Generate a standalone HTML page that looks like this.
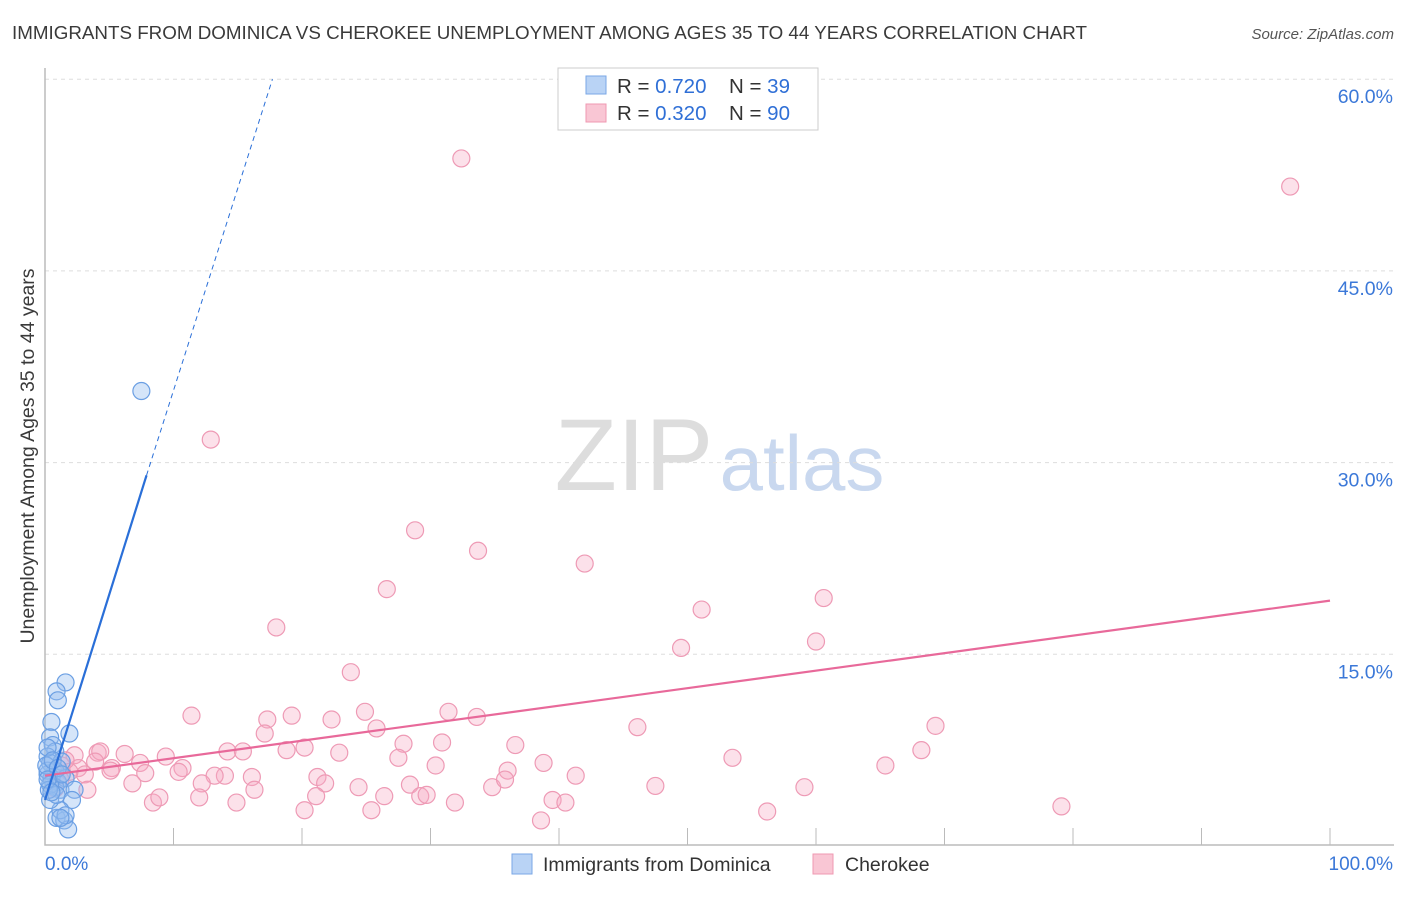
<!DOCTYPE html>
<html><head><meta charset="utf-8"><style>
body{margin:0;background:#fff;font-family:"Liberation Sans",sans-serif;}
svg text{font-family:"Liberation Sans",sans-serif;}
</style></head><body>
<svg id="chart" width="1406" height="892">
<text x="12" y="39" font-size="18.8" fill="#3a3a3a">IMMIGRANTS FROM DOMINICA VS CHEROKEE UNEMPLOYMENT AMONG AGES 35 TO 44 YEARS CORRELATION CHART</text>
<text x="1394" y="39" font-size="15" fill="#555" font-style="italic" text-anchor="end">Source: ZipAtlas.com</text>
<g><text x="634" y="490" font-size="102" fill="#ddd" font-family="Liberation Serif" text-anchor="middle">ZIP</text><text x="802" y="490" font-size="78" fill="#c9d8ef" text-anchor="middle">atlas</text></g>
<g id="grid"></g><g id="axes"></g><g id="marks"></g>
<text transform="translate(34,456) rotate(-90)" font-size="19.5" fill="#3a3a3a" text-anchor="middle">Unemployment Among Ages 35 to 44 years</text>
<g>
<rect x="558" y="68" width="260" height="62" fill="#fff" stroke="#ccc"/>
<rect x="586" y="76" width="20" height="18" fill="#b9d3f5" stroke="#7aa7e6"/>
<text x="617" y="93" font-size="20.5" fill="#333">R = <tspan fill="#2f6fd6">0.720</tspan></text>
<text x="729" y="93" font-size="20.5" fill="#333">N = <tspan fill="#2f6fd6">39</tspan></text>
<rect x="586" y="104" width="20" height="18" fill="#f9c6d4" stroke="#ef98b2"/>
<text x="617" y="120" font-size="20.5" fill="#333">R = <tspan fill="#2f6fd6">0.320</tspan></text>
<text x="729" y="120" font-size="20.5" fill="#333">N = <tspan fill="#2f6fd6">90</tspan></text>
</g>
<g>
<rect x="512" y="854" width="20" height="20" fill="#b9d3f5" stroke="#7aa7e6"/>
<text x="543" y="871" font-size="19.5" fill="#333">Immigrants from Dominica</text>
<rect x="813" y="854" width="20" height="20" fill="#f9c6d4" stroke="#ef98b2"/>
<text x="845" y="871" font-size="19.5" fill="#333">Cherokee</text>
</g>
</svg>
<script>
const blueX=[7.5,1.6,0.9,1.0,0.5,1.9,0.4,0.6,0.8,0.2,0.4,1.3,0.8,0.2,0.5,1.0,1.6,0.8,1.2,2.3,2.1,0.9,1.5,1.8,1.2,0.4,0.2,0.4,0.9,0.2,0.1,0.6,1.0,1.3,0.3,1.6,0.2,0.5,1.2];
const blueY=[35.6,12.8,12.1,11.4,9.7,8.8,8.5,7.9,7.4,7.0,6.5,6.6,5.9,5.6,5.3,5.0,5.3,4.6,4.4,4.4,3.6,2.2,2.0,1.3,2.8,3.6,5.9,4.8,4.0,7.7,6.3,6.7,6.1,5.6,4.4,2.4,5.2,4.2,2.2];
const pinkX=[32.4,96.9,12.9,28.8,33.7,42.0,26.6,51.1,60.6,18.0,60.0,49.5,23.8,11.4,17.3,19.2,22.3,24.9,31.4,33.6,46.1,69.3,25.8,17.1,27.9,30.9,36.6,14.2,15.4,18.8,20.2,22.9,9.4,4.1,6.2,4.3,2.3,27.5,30.4,38.8,53.5,68.2,65.4,7.4,10.7,5.2,1.3,2.6,7.8,10.4,14.0,13.2,16.1,21.2,36.0,41.3,6.8,12.2,21.8,24.4,28.4,34.8,35.8,47.5,59.1,16.3,12.0,14.9,8.4,8.9,21.1,26.4,29.2,29.7,31.9,39.5,40.5,20.2,25.4,79.1,56.2,38.6,3.1,1.9,3.3,1.2,1.6,5.1,3.9,0.8];
const pinkY=[53.8,51.6,31.8,24.7,23.1,22.1,20.1,18.5,19.4,17.1,16.0,15.5,13.6,10.2,9.9,10.2,9.9,10.5,10.5,10.1,9.3,9.4,9.2,8.8,8.0,8.1,7.9,7.4,7.4,7.5,7.7,7.3,7.0,7.3,7.2,7.4,7.1,6.9,6.3,6.5,6.9,7.5,6.3,6.5,6.1,6.1,6.3,6.1,5.7,5.8,5.5,5.5,5.4,5.4,5.9,5.5,4.9,4.9,4.9,4.6,4.8,4.6,5.2,4.7,4.6,4.4,3.8,3.4,3.4,3.8,3.9,3.9,3.9,4.0,3.4,3.6,3.4,2.8,2.8,3.1,2.7,2.0,5.6,5.8,4.4,5.2,6.7,5.9,6.6,4.5];
const yTicks=[15,30,45,60];
const yTickLabels=["15.0%","30.0%","45.0%","60.0%"];
const xTicks=[0,10,20,30,40,50,60,70,80,90,100];
const blueLine=[0,3.6,7.9,29.0,17.7,60];
const pinkLine=[0,5.5,100,19.2];
const NS="http://www.w3.org/2000/svg";
const sx=v=>45+v*12.85, sy=v=>846-v*12.78;
function mk(p,tag,a){const e=document.createElementNS(NS,tag);for(const k in a)e.setAttribute(k,a[k]);document.getElementById(p).appendChild(e);return e;}
yTicks.forEach((t,i)=>{
 const g=mk('grid','line',{x1:45,x2:1394,y1:sy(t),y2:sy(t),stroke:'#ddd','stroke-dasharray':'4 4'});
 
 
 const tx=mk('grid','text',{x:1393,y:sy(t)+24,'font-size':19.5,fill:'#3b78d8','text-anchor':'end'});tx.textContent=yTickLabels[i];
 
 
});
const ax=mk('axes','path',{d:'M45 68 V845 H1394',fill:'none',stroke:'#bbb','stroke-width':1.5});


xTicks.slice(1).forEach(t=>{const l=mk('axes','line',{x1:sx(t),x2:sx(t),y1:828,y2:845,stroke:'#bbb'});
 
 });
let t0=mk('axes','text',{x:45,y:870,'font-size':19,fill:'#3b78d8'});t0.textContent='0.0%';


let t1=mk('axes','text',{x:1393,y:870,'font-size':19,fill:'#3b78d8','text-anchor':'end'});t1.textContent='100.0%';


pinkX.forEach((x,i)=>{const c=mk('marks','circle',{cx:sx(x),cy:sy(pinkY[i]),r:8.5,fill:'rgba(246,170,195,0.35)',stroke:'#ee9ab5','stroke-width':1.2});
 
 });
blueX.forEach((x,i)=>{const c=mk('marks','circle',{cx:sx(x),cy:sy(blueY[i]),r:8.5,fill:'rgba(150,190,240,0.4)',stroke:'#6b9fe3','stroke-width':1.2});
 
 });
let pl=mk('marks','line',{x1:sx(pinkLine[0]),y1:sy(pinkLine[1]),x2:sx(pinkLine[2]),y2:sy(pinkLine[3]),stroke:'#e8699a','stroke-width':2.2});


let bl=mk('marks','line',{x1:sx(blueLine[0]),y1:sy(blueLine[1]),x2:sx(blueLine[2]),y2:sy(blueLine[3]),stroke:'#2a6fd8','stroke-width':2.2});


let bd=mk('marks','line',{x1:sx(blueLine[2]),y1:sy(blueLine[3]),x2:sx(blueLine[4]),y2:sy(blueLine[5]),stroke:'#2a6fd8','stroke-width':1,'stroke-dasharray':'5 4'});


</script>
</body></html>
